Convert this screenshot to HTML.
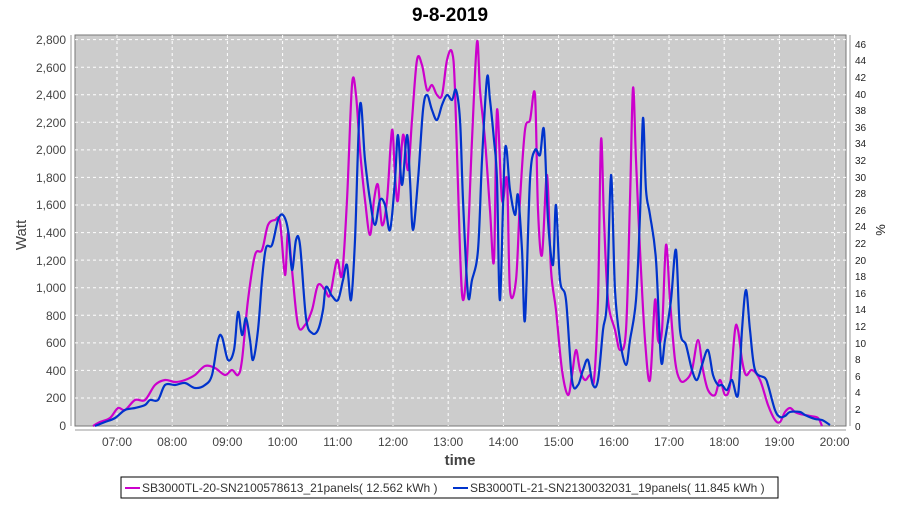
<!DOCTYPE html>
<html><head><style>
body{margin:0;background:#fff;font-family:"Liberation Sans",sans-serif;}
</style></head><body>
<svg id="c" width="900" height="500" xmlns="http://www.w3.org/2000/svg" font-family="Liberation Sans, sans-serif">
<text x="450" y="21" text-anchor="middle" font-size="19" font-weight="bold">9-8-2019</text>
<rect x="75" y="35" width="771" height="391" fill="#cccccc" stroke="#777" stroke-width="1"/>
<g stroke="#fff" stroke-width="1" stroke-dasharray="3,3">
<line x1="75" x2="846" y1="39.6" y2="39.6"/><line x1="75" x2="846" y1="67.2" y2="67.2"/><line x1="75" x2="846" y1="94.7" y2="94.7"/><line x1="75" x2="846" y1="122.3" y2="122.3"/><line x1="75" x2="846" y1="149.9" y2="149.9"/><line x1="75" x2="846" y1="177.4" y2="177.4"/><line x1="75" x2="846" y1="205" y2="205"/><line x1="75" x2="846" y1="232.6" y2="232.6"/><line x1="75" x2="846" y1="260.1" y2="260.1"/><line x1="75" x2="846" y1="287.7" y2="287.7"/><line x1="75" x2="846" y1="315.3" y2="315.3"/><line x1="75" x2="846" y1="342.9" y2="342.9"/><line x1="75" x2="846" y1="370.4" y2="370.4"/><line x1="75" x2="846" y1="398" y2="398"/>
<line y1="35" y2="426" x1="117" x2="117"/><line y1="35" y2="426" x1="172.2" x2="172.2"/><line y1="35" y2="426" x1="227.4" x2="227.4"/><line y1="35" y2="426" x1="282.6" x2="282.6"/><line y1="35" y2="426" x1="337.8" x2="337.8"/><line y1="35" y2="426" x1="393" x2="393"/><line y1="35" y2="426" x1="448.2" x2="448.2"/><line y1="35" y2="426" x1="503.4" x2="503.4"/><line y1="35" y2="426" x1="558.6" x2="558.6"/><line y1="35" y2="426" x1="613.8" x2="613.8"/><line y1="35" y2="426" x1="669" x2="669"/><line y1="35" y2="426" x1="724.2" x2="724.2"/><line y1="35" y2="426" x1="779.4" x2="779.4"/><line y1="35" y2="426" x1="834.6" x2="834.6"/>
</g>
<line x1="71" y1="35" x2="71" y2="426" stroke="#999"/>
<line x1="75" y1="430" x2="846" y2="430" stroke="#999"/>
<line x1="850" y1="35" x2="850" y2="426" stroke="#999"/>
<g font-size="12" fill="#444" text-anchor="end">
<text x="66" y="44">2,800</text><text x="66" y="72">2,600</text><text x="66" y="99">2,400</text><text x="66" y="127">2,200</text><text x="66" y="154">2,000</text><text x="66" y="182">1,800</text><text x="66" y="209">1,600</text><text x="66" y="237">1,400</text><text x="66" y="265">1,200</text><text x="66" y="292">1,000</text><text x="66" y="320">800</text><text x="66" y="347">600</text><text x="66" y="375">400</text><text x="66" y="402">200</text><text x="66" y="430">0</text>
</g>
<g font-size="10" fill="#222">
<text x="855" y="48">46</text><text x="855" y="64">44</text><text x="855" y="81">42</text><text x="855" y="98">40</text><text x="855" y="114">38</text><text x="855" y="131">36</text><text x="855" y="147">34</text><text x="855" y="164">32</text><text x="855" y="181">30</text><text x="855" y="197">28</text><text x="855" y="214">26</text><text x="855" y="230">24</text><text x="855" y="247">22</text><text x="855" y="264">20</text><text x="855" y="280">18</text><text x="855" y="297">16</text><text x="855" y="313">14</text><text x="855" y="330">12</text><text x="855" y="347">10</text><text x="855" y="363">8</text><text x="855" y="380">6</text><text x="855" y="396">4</text><text x="855" y="413">2</text><text x="855" y="430">0</text>
</g>
<g font-size="12" fill="#444" text-anchor="middle">
<text x="117" y="446">07:00</text><text x="172.2" y="446">08:00</text><text x="227.4" y="446">09:00</text><text x="282.6" y="446">10:00</text><text x="337.8" y="446">11:00</text><text x="393" y="446">12:00</text><text x="448.2" y="446">13:00</text><text x="503.4" y="446">14:00</text><text x="558.6" y="446">15:00</text><text x="613.8" y="446">16:00</text><text x="669" y="446">17:00</text><text x="724.2" y="446">18:00</text><text x="779.4" y="446">19:00</text><text x="834.6" y="446">20:00</text>
</g>
<text x="460" y="465" font-size="15" font-weight="bold" fill="#444" text-anchor="middle">time</text>
<text transform="translate(26,235) rotate(-90)" font-size="15" fill="#444" text-anchor="middle">Watt</text>
<text transform="translate(885,230) rotate(-90)" font-size="13" fill="#222" text-anchor="middle">%</text>
<g fill="none" stroke-width="2.2" stroke-linejoin="round">
<polyline class="s" stroke="#cc00cc" points="93,426 100,422 110,418 118,408 125,410 135,400 145,400 155,385 165,380 175,382 185,380 195,375 205,366 215,368 225,375 232,370 238,375 242,360 248,300 255,255 262,250 268,225 275,220 280,222 285,275 288,232 292,270 298,325 305,325 312,310 318,285 325,290 330,295 337,260 342,275 347,200 352,85 356,95 360,150 365,200 370,235 374,200 378,185 382,225 387,200 392,130 395,175 398,200 403,135 408,170 412,120 417,60 422,65 427,90 432,85 437,95 442,95 447,60 452,52 455,90 460,250 463,300 467,260 472,140 477,42 480,90 485,140 490,210 494,260 497,110 502,200 507,180 510,290 516,280 520,200 525,130 530,120 535,95 538,210 542,255 547,175 551,270 556,310 562,370 568,395 572,375 576,350 580,370 585,380 590,375 594,380 598,300 601,140 604,220 608,300 615,330 620,350 626,330 630,200 633,88 636,160 640,250 645,340 650,380 655,300 658,340 662,330 666,245 670,300 675,360 680,380 686,380 692,370 698,340 703,370 708,390 715,395 720,380 725,395 730,385 735,330 738,330 742,360 746,375 752,370 760,380 768,405 775,420 780,422 785,412 790,408 795,412 800,414 810,416 818,418 822,426"/>
<polyline class="s" stroke="#0033cc" points="95,426 105,422 115,418 125,410 135,408 145,405 150,400 158,400 165,385 175,385 185,383 195,388 205,385 212,375 218,340 222,337 228,360 234,350 238,312 242,335 246,318 250,340 253,360 258,330 262,280 266,248 272,245 278,220 283,215 288,230 292,270 296,240 300,245 306,318 312,333 318,330 323,310 326,287 332,296 338,300 343,280 347,265 351,300 355,240 360,105 365,160 370,200 375,225 380,200 385,205 390,230 395,180 398,135 402,185 407,135 410,180 413,230 418,180 423,110 427,95 432,110 437,120 442,105 447,95 452,100 456,90 460,120 463,200 468,295 472,280 478,250 482,160 487,78 490,100 494,140 497,180 500,300 505,150 510,190 515,215 518,195 522,250 525,320 530,180 535,150 540,155 544,130 548,220 553,265 556,205 560,280 566,300 572,380 578,385 583,370 588,360 593,385 598,380 603,330 607,300 611,175 615,290 620,340 626,365 630,340 636,300 640,215 643,118 646,190 650,215 656,260 661,360 665,340 671,300 676,250 680,330 686,345 692,370 697,380 702,365 708,350 713,375 718,385 722,385 727,390 732,380 738,395 742,330 746,290 750,330 755,370 765,378 768,385 775,410 780,417 785,416 790,412 800,412 805,415 815,419 822,420 830,425"/>
</g>
<rect x="121" y="477" width="657" height="21" fill="#fff" stroke="#000"/>
<line x1="125" y1="488" x2="140" y2="488" stroke="#cc00cc" stroke-width="2"/>
<line x1="453" y1="488" x2="468" y2="488" stroke="#0033cc" stroke-width="2"/>
<g font-size="12" fill="#333">
<text x="142" y="492">SB3000TL-20-SN2100578613_21panels( 12.562 kWh )</text>
<text x="470" y="492">SB3000TL-21-SN2130032031_19panels( 11.845 kWh )</text>
</g>
</svg>
<script>
document.querySelectorAll('polyline.s').forEach(function(pl){
  var p=pl.getAttribute('points').trim().split(/\s+/).map(function(s){return s.split(',').map(Number);});
  var d='M'+p[0][0]+','+p[0][1];
  for(var i=0;i<p.length-1;i++){
    var p0=p[i-1]||p[i],p1=p[i],p2=p[i+1],p3=p[i+2]||p2;
    var c1x=p1[0]+(p2[0]-p0[0])/6,c1y=p1[1]+(p2[1]-p0[1])/6;
    var c2x=p2[0]-(p3[0]-p1[0])/6,c2y=p2[1]-(p3[1]-p1[1])/6;
    d+=' C'+c1x.toFixed(1)+','+c1y.toFixed(1)+' '+c2x.toFixed(1)+','+c2y.toFixed(1)+' '+p2[0]+','+p2[1];
  }
  var path=document.createElementNS('http://www.w3.org/2000/svg','path');
  path.setAttribute('d',d);path.setAttribute('stroke',pl.getAttribute('stroke'));
  pl.parentNode.replaceChild(path,pl);
});
</script>
</body></html>
